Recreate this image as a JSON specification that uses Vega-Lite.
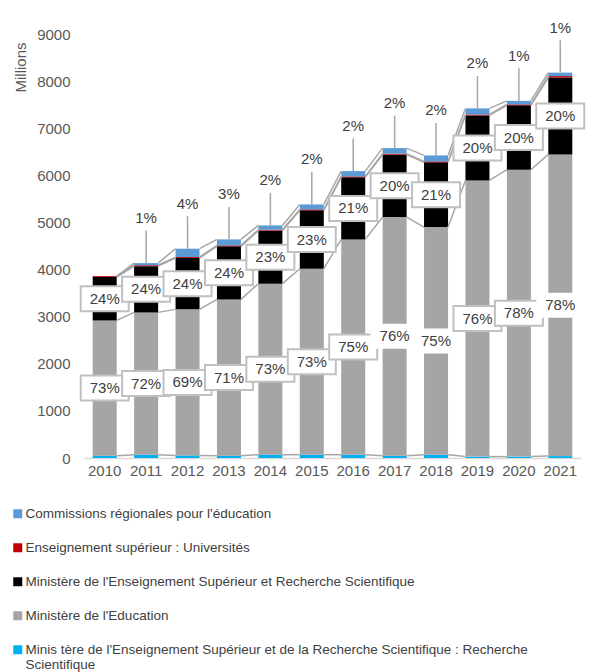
{
  "$schema": "https://vega.github.io/schema/vega-lite/v6.json",
  "width": 497,
  "height": 424,
  "autosize": {"type": "none"},
  "padding": {"left": 84, "top": 34, "right": 25, "bottom": 214},
  "config": {"view": {"stroke": null}, "font": "Liberation Sans"},
  "data": {
    "values": [
      {"year": "2010", "series": "RS", "value": 50, "pct": null},
      {"year": "2010", "series": "EDU", "value": 2870, "pct": 73},
      {"year": "2010", "series": "MESRS", "value": 920, "pct": 24},
      {"year": "2010", "series": "UNIV", "value": 20, "pct": null},
      {"year": "2010", "series": "CRE", "value": 0, "pct": null},
      {"year": "2011", "series": "RS", "value": 70, "pct": null},
      {"year": "2011", "series": "EDU", "value": 3021, "pct": 72},
      {"year": "2011", "series": "MESRS", "value": 981, "pct": 24},
      {"year": "2011", "series": "UNIV", "value": 20, "pct": null},
      {"year": "2011", "series": "CRE", "value": 45, "pct": 1},
      {"year": "2012", "series": "RS", "value": 55, "pct": null},
      {"year": "2012", "series": "EDU", "value": 3100, "pct": 69},
      {"year": "2012", "series": "MESRS", "value": 1090, "pct": 24},
      {"year": "2012", "series": "UNIV", "value": 20, "pct": null},
      {"year": "2012", "series": "CRE", "value": 178, "pct": 4},
      {"year": "2013", "series": "RS", "value": 50, "pct": null},
      {"year": "2013", "series": "EDU", "value": 3317, "pct": 71},
      {"year": "2013", "series": "MESRS", "value": 1126, "pct": 24},
      {"year": "2013", "series": "UNIV", "value": 20, "pct": null},
      {"year": "2013", "series": "CRE", "value": 127, "pct": 3},
      {"year": "2014", "series": "RS", "value": 70, "pct": null},
      {"year": "2014", "series": "EDU", "value": 3630, "pct": 73},
      {"year": "2014", "series": "MESRS", "value": 1126, "pct": 23},
      {"year": "2014", "series": "UNIV", "value": 20, "pct": null},
      {"year": "2014", "series": "CRE", "value": 91, "pct": 2},
      {"year": "2015", "series": "RS", "value": 70, "pct": null},
      {"year": "2015", "series": "EDU", "value": 3948, "pct": 73},
      {"year": "2015", "series": "MESRS", "value": 1239, "pct": 23},
      {"year": "2015", "series": "UNIV", "value": 20, "pct": null},
      {"year": "2015", "series": "CRE", "value": 106, "pct": 2},
      {"year": "2016", "series": "RS", "value": 70, "pct": null},
      {"year": "2016", "series": "EDU", "value": 4570, "pct": 75},
      {"year": "2016", "series": "MESRS", "value": 1317, "pct": 21},
      {"year": "2016", "series": "UNIV", "value": 20, "pct": null},
      {"year": "2016", "series": "CRE", "value": 113, "pct": 2},
      {"year": "2017", "series": "RS", "value": 50, "pct": null},
      {"year": "2017", "series": "EDU", "value": 5064, "pct": 76},
      {"year": "2017", "series": "MESRS", "value": 1325, "pct": 20},
      {"year": "2017", "series": "UNIV", "value": 20, "pct": null},
      {"year": "2017", "series": "CRE", "value": 119, "pct": 2},
      {"year": "2018", "series": "RS", "value": 70, "pct": null},
      {"year": "2018", "series": "EDU", "value": 4832, "pct": 75},
      {"year": "2018", "series": "MESRS", "value": 1374, "pct": 21},
      {"year": "2018", "series": "UNIV", "value": 20, "pct": null},
      {"year": "2018", "series": "CRE", "value": 127, "pct": 2},
      {"year": "2019", "series": "RS", "value": 30, "pct": null},
      {"year": "2019", "series": "EDU", "value": 5862, "pct": 76},
      {"year": "2019", "series": "MESRS", "value": 1379, "pct": 20},
      {"year": "2019", "series": "UNIV", "value": 20, "pct": null},
      {"year": "2019", "series": "CRE", "value": 130, "pct": 2},
      {"year": "2020", "series": "RS", "value": 30, "pct": null},
      {"year": "2020", "series": "EDU", "value": 6089, "pct": 78},
      {"year": "2020", "series": "MESRS", "value": 1367, "pct": 20},
      {"year": "2020", "series": "UNIV", "value": 20, "pct": null},
      {"year": "2020", "series": "CRE", "value": 75, "pct": 1},
      {"year": "2021", "series": "RS", "value": 40, "pct": null},
      {"year": "2021", "series": "EDU", "value": 6404, "pct": 78},
      {"year": "2021", "series": "MESRS", "value": 1633, "pct": 20},
      {"year": "2021", "series": "UNIV", "value": 30, "pct": null},
      {"year": "2021", "series": "CRE", "value": 73, "pct": 1}
    ]
  },
  "transform": [
    {"calculate": "indexof(['RS','EDU','MESRS','UNIV','CRE'], datum.series)", "as": "k"},
    {"stack": "value", "groupby": ["year"], "sort": [{"field": "k", "order": "ascending"}], "as": ["y0", "y1"]},
    {"window": [{"op": "lead", "field": "y1", "as": "ny1"}, {"op": "lead", "field": "year", "as": "nyear"}], "groupby": ["series"], "sort": [{"field": "year", "order": "ascending"}]},
    {"calculate": "(datum.y0 + datum.y1) / 2", "as": "mid"},
    {"calculate": "datum.pct == null ? '' : datum.pct + '%'", "as": "label"}
  ],
  "encoding": {
    "x": {
      "field": "year",
      "type": "ordinal",
      "scale": {"paddingInner": 0.42, "paddingOuter": 0.21},
      "axis": {
        "title": null,
        "labelAngle": 0,
        "ticks": false,
        "domainColor": "#d9d9d9",
        "domainWidth": 1.5,
        "labelFontSize": 15,
        "labelColor": "#595959",
        "labelPadding": 5
      }
    }
  },
  "layer": [
    {
      "mark": {"type": "bar"},
      "encoding": {
        "y": {
          "field": "y1",
          "type": "quantitative",
          "scale": {"domain": [0, 9000]},
          "axis": {
            "title": "Millions",
            "format": "d",
            "values": [0, 1000, 2000, 3000, 4000, 5000, 6000, 7000, 8000, 9000],
            "grid": false,
            "domain": false,
            "ticks": false,
            "labelFontSize": 15,
            "labelColor": "#595959",
            "labelPadding": 14,
            "titleFontSize": 15,
            "titleFontWeight": "normal",
            "titleColor": "#595959",
            "titleAnchor": "end",
            "titleY": 8,
            "titlePadding": 8
          }
        },
        "y2": {"field": "y0"},
        "color": {
          "field": "series",
          "type": "nominal",
          "scale": {
            "domain": ["CRE", "UNIV", "MESRS", "EDU", "RS"],
            "range": ["#5b9bd5", "#c00000", "#000000", "#a5a5a5", "#00b0f0"]
          },
          "legend": {
            "title": null,
            "orient": "none",
            "legendX": -73,
            "legendY": 473,
            "direction": "vertical",
            "symbolType": "square",
            "symbolSize": 81,
            "symbolStrokeWidth": 0,
            "labelFontSize": 13.5,
            "labelColor": "#404040",
            "labelLimit": 600,
            "labelOffset": 1,
            "rowPadding": 19,
            "labelExpr": "datum.label == 'CRE' ? \"Commissions régionales pour l'éducation\" : datum.label == 'UNIV' ? 'Enseignement supérieur : Universités' : datum.label == 'MESRS' ? \"Ministère de l'Enseignement Supérieur et Recherche Scientifique\" : datum.label == 'EDU' ? \"Ministère de l'Education\" : [\"Minis tère de l'Enseignement Supérieur et de la Recherche Scientifique : Recherche\", 'Scientifique']"
          }
        }
      }
    },
    {
      "transform": [{"filter": "datum.nyear != null"}],
      "mark": {"type": "rule", "color": "#a6a6a6", "strokeWidth": 1.5, "xOffset": 12, "x2Offset": -12},
      "encoding": {
        "x2": {"field": "nyear"},
        "y": {"field": "y1", "type": "quantitative"},
        "y2": {"field": "ny1"}
      }
    },
    {
      "transform": [{"filter": "datum.series == 'CRE' && datum.value > 0"}],
      "mark": {"type": "rule", "color": "#a6a6a6", "strokeWidth": 1.5, "y2Offset": -33},
      "encoding": {
        "y": {"field": "y1", "type": "quantitative"},
        "y2": {"field": "y1"}
      }
    },
    {
      "transform": [{"filter": "datum.series == 'EDU' || datum.series == 'MESRS'"}],
      "mark": {"type": "bar", "width": 48, "fill": "white", "stroke": "#c0c0c0", "strokeWidth": 2, "yOffset": -12.5, "y2Offset": 12.5},
      "encoding": {
        "y": {"field": "mid", "type": "quantitative"},
        "y2": {"field": "mid"},
        "strokeOpacity": {
          "condition": {"test": "datum.series == 'EDU' && indexof(['2017','2018','2021'], datum.year) >= 0", "value": 0},
          "value": 1
        }
      }
    },
    {
      "transform": [{"filter": "datum.series == 'EDU' || datum.series == 'MESRS'"}],
      "mark": {"type": "text", "fontSize": 15, "color": "#404040", "baseline": "middle", "align": "center"},
      "encoding": {
        "y": {"field": "mid", "type": "quantitative"},
        "text": {"field": "label"}
      }
    },
    {
      "transform": [{"filter": "datum.series == 'CRE' && datum.value > 0"}],
      "mark": {"type": "bar", "width": 34, "fill": "white", "yOffset": -57.5, "y2Offset": -32.5},
      "encoding": {
        "y": {"field": "y1", "type": "quantitative"},
        "y2": {"field": "y1"}
      }
    },
    {
      "transform": [{"filter": "datum.series == 'CRE' && datum.value > 0"}],
      "mark": {"type": "text", "fontSize": 15, "color": "#404040", "baseline": "middle", "align": "center", "yOffset": -45},
      "encoding": {
        "y": {"field": "y1", "type": "quantitative"},
        "text": {"field": "label"}
      }
    }
  ]
}
